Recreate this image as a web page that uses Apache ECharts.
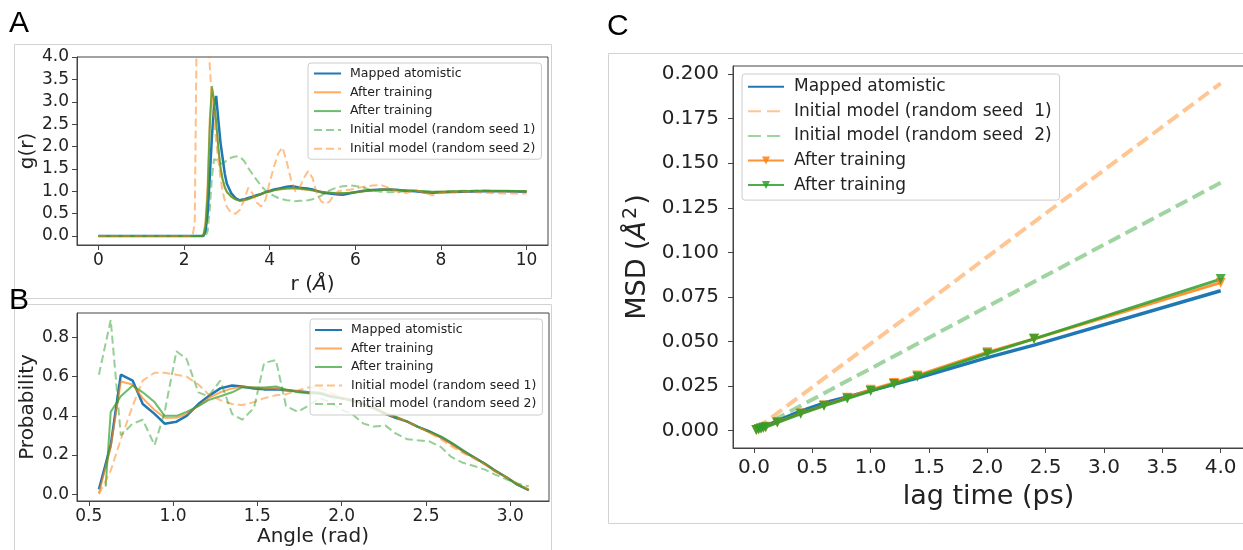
<!DOCTYPE html>
<html>
<head>
<meta charset="utf-8">
<script src="https://cdn.jsdelivr.net/npm/echarts@6/dist/echarts.min.js"></script>
<style>
  html, body { margin: 0; padding: 0; background: #fff; }
  #main { width: 1243px; height: 550px; }
</style>
</head>
<body>
<div id="main"></div>
<script>
// ---- panel A : g(r) ----
const rA = [0, 1, 2, 2.2, 2.25, 2.3, 2.35, 2.4, 2.45, 2.5, 2.55, 2.6, 2.65, 2.7, 2.75, 2.8, 2.85, 2.9, 2.95, 3.0,
  3.1, 3.2, 3.3, 3.4, 3.5, 3.6, 3.7, 3.8, 3.9, 4.0, 4.1, 4.2, 4.3, 4.4, 4.5, 4.6, 4.7, 4.8, 4.9, 5.0,
  5.1, 5.2, 5.3, 5.4, 5.5, 5.6, 5.7, 5.8, 5.9, 6.0, 6.2, 6.4, 6.6, 6.8, 7.0, 7.2, 7.4, 7.6, 7.8, 8.0,
  8.5, 9.0, 9.5, 10.0];
const gMapped = [0, 0, 0, 0, 0, 0, 0, 0, 0, 0.1, 0.5, 1.3, 2.2, 2.9, 3.13, 2.6, 2.1, 1.75, 1.4, 1.17,
  0.96, 0.85, 0.8, 0.82, 0.85, 0.88, 0.91, 0.94, 0.98, 1.01, 1.04, 1.06, 1.08, 1.1, 1.11, 1.1, 1.08, 1.07, 1.06, 1.04,
  1.01, 0.98, 0.96, 0.95, 0.94, 0.93, 0.92, 0.94, 0.96, 0.98, 1.01, 1.03, 1.04, 1.04, 1.03, 1.01, 1.0, 0.98, 0.97, 0.98,
  0.99, 1.0, 1.0, 0.99];
const gAfterOrange = [0, 0, 0, 0, 0, 0, 0, 0, 0.02, 0.3, 1.1, 2.6, 3.3, 3.0, 2.5, 1.95, 1.5, 1.25, 1.08, 0.98,
  0.88, 0.82, 0.79, 0.8, 0.83, 0.87, 0.9, 0.94, 0.98, 1.0, 1.02, 1.04, 1.05, 1.06, 1.07, 1.06, 1.05, 1.04, 1.03, 1.02,
  1.0, 0.99, 0.98, 0.97, 0.96, 0.95, 0.95, 0.96, 0.97, 0.98, 1.0, 1.02, 1.04, 1.04, 1.03, 1.02, 1.01, 0.99, 0.98, 0.99,
  1.0, 1.01, 1.0, 1.0];
const gAfterGreen = [0, 0, 0, 0, 0, 0, 0, 0, 0.01, 0.2, 0.9, 2.4, 3.35, 3.05, 2.55, 2.0, 1.55, 1.28, 1.1, 0.99,
  0.88, 0.82, 0.79, 0.8, 0.82, 0.86, 0.9, 0.93, 0.97, 0.99, 1.02, 1.04, 1.05, 1.06, 1.07, 1.07, 1.06, 1.05, 1.04, 1.02,
  1.0, 0.99, 0.98, 0.97, 0.96, 0.96, 0.96, 0.96, 0.97, 0.98, 1.0, 1.02, 1.03, 1.04, 1.03, 1.02, 1.01, 1.0, 0.99, 0.99,
  1.0, 1.01, 1.01, 1.0];
const gSeed1 = [0, 0, 0, 0, 0, 0, 0, 0, 0, 0, 0.1, 0.6, 1.3, 1.72, 1.7, 1.65, 1.62, 1.62, 1.65, 1.7,
  1.75, 1.78, 1.77, 1.68, 1.52, 1.38, 1.25, 1.12, 1.02, 0.95, 0.9, 0.85, 0.82, 0.8, 0.79, 0.78, 0.79, 0.79, 0.8, 0.82,
  0.86, 0.9, 0.96, 1.02, 1.06, 1.09, 1.11, 1.12, 1.13, 1.12, 1.08, 1.02, 0.99, 0.98, 0.99, 1.0, 1.01, 1.0, 0.99, 0.99,
  1.01, 1.02, 1.0, 1.0];
const gSeed2 = [0, 0, 0, 0, 0.3, 5, 9, 10, 9, 7, 5, 3.8, 3.1, 2.6, 2.1, 1.7, 1.3, 1.0, 0.8, 0.65,
  0.52, 0.5, 0.58, 0.8, 1.08, 0.95, 0.75, 0.66, 0.8, 1.2, 1.55, 1.85, 1.98, 1.65, 1.25, 1.0, 1.08, 1.3, 1.45, 1.3,
  0.95, 0.78, 0.72, 0.77, 0.92, 1.0, 1.02, 1.03, 1.04, 1.06, 1.1, 1.13, 1.14, 1.07, 0.98, 0.96, 1.03, 0.97, 0.91, 0.97,
  0.99, 0.97, 0.95, 0.95];
const ticksAx = [0, 2, 4, 6, 8, 10];
const ticksAy = [0, 0.5, 1, 1.5, 2, 2.5, 3, 3.5, 4];

// ---- panel B : angle distribution ----
const angles = [0.56, 0.63, 0.69, 0.76, 0.82, 0.89, 0.95, 1.02, 1.08, 1.15,
  1.21, 1.28, 1.35, 1.41, 1.48, 1.54, 1.61, 1.67, 1.74, 1.80,
  1.87, 1.93, 2.00, 2.06, 2.13, 2.19, 2.26, 2.32, 2.39, 2.45,
  2.52, 2.59, 2.65, 2.72, 2.78, 2.85, 2.91, 2.98, 3.04, 3.11];
const anglesGreen = [0.60, 0.63, 0.69, 0.76, 0.82, 0.89, 0.95, 1.02, 1.08, 1.15,
  1.21, 1.28, 1.35, 1.41, 1.48, 1.54, 1.61, 1.67, 1.74, 1.80,
  1.87, 1.93, 2.00, 2.06, 2.13, 2.19, 2.26, 2.32, 2.39, 2.45,
  2.52, 2.59, 2.65, 2.72, 2.78, 2.85, 2.91, 2.98, 3.04, 3.11];
const pMapped = [0.025, 0.25, 0.61, 0.58, 0.46, 0.41, 0.36, 0.37, 0.40, 0.46,
  0.50, 0.54, 0.555, 0.55, 0.54, 0.535, 0.535, 0.53, 0.525, 0.52,
  0.515, 0.50, 0.49, 0.48, 0.46, 0.44, 0.41, 0.39, 0.37, 0.345,
  0.32, 0.29, 0.26, 0.22, 0.19, 0.155, 0.12, 0.085, 0.05, 0.02];
const pAfterOrange = [0.005, 0.24, 0.575, 0.56, 0.49, 0.43, 0.39, 0.39, 0.41, 0.45,
  0.49, 0.52, 0.54, 0.55, 0.545, 0.54, 0.54, 0.53, 0.525, 0.52,
  0.52, 0.505, 0.49, 0.48, 0.46, 0.44, 0.415, 0.395, 0.37, 0.345,
  0.315, 0.29, 0.255, 0.22, 0.19, 0.155, 0.12, 0.085, 0.05, 0.02];
const pAfterGreen = [0.04, 0.42, 0.50, 0.555, 0.52, 0.47, 0.40, 0.40, 0.42, 0.45,
  0.48, 0.50, 0.52, 0.545, 0.545, 0.545, 0.55, 0.535, 0.52, 0.515,
  0.515, 0.50, 0.49, 0.475, 0.46, 0.44, 0.41, 0.395, 0.37, 0.345,
  0.32, 0.295, 0.265, 0.225, 0.19, 0.155, 0.12, 0.085, 0.05, 0.02];
const pSeed1 = [0.0, 0.12, 0.28, 0.45, 0.58, 0.62, 0.62, 0.61, 0.60, 0.56,
  0.51, 0.48, 0.46, 0.455, 0.47, 0.49, 0.505, 0.51, 0.53, 0.545,
  0.545, 0.52, 0.495, 0.475, 0.455, 0.435, 0.41, 0.39, 0.37, 0.345,
  0.315, 0.28, 0.245, 0.21, 0.185, 0.15, 0.115, 0.085, 0.055, 0.025];
const pSeed2 = [0.61, 0.89, 0.30, 0.36, 0.38, 0.25, 0.42, 0.73, 0.69, 0.52,
  0.50, 0.58, 0.41, 0.38, 0.44, 0.67, 0.685, 0.45, 0.42, 0.45,
  0.49, 0.47, 0.43, 0.41, 0.36, 0.345, 0.35, 0.31, 0.28, 0.275,
  0.27, 0.24, 0.19, 0.16, 0.145, 0.125, 0.10, 0.075, 0.055, 0.04];
const ticksBx = [0.5, 1.0, 1.5, 2.0, 2.5, 3.0];
const ticksBy = [0, 0.2, 0.4, 0.6, 0.8];

// ---- panel C : MSD ----
const lagTime = [0.02, 0.04, 0.06, 0.08, 0.1, 0.2, 0.4, 0.6, 0.8, 1.0, 1.2, 1.4, 2.0, 2.4, 4.0];
const msdMapped = [0.0005, 0.001, 0.0015, 0.002, 0.0026, 0.0055, 0.011, 0.0155, 0.019, 0.0225, 0.026, 0.0295, 0.041, 0.048, 0.0785];
const msdSeed1 = [0.001, 0.002, 0.003, 0.004, 0.005, 0.0098, 0.0196, 0.0293, 0.039, 0.0488, 0.0585, 0.068, 0.0975, 0.117, 0.1947];
const msdSeed2 = [0.0007, 0.0014, 0.0021, 0.0028, 0.0035, 0.007, 0.014, 0.021, 0.028, 0.0348, 0.0418, 0.0487, 0.0696, 0.0835, 0.139];
const msdAfterOrange = [0.0004, 0.0008, 0.0013, 0.0017, 0.0022, 0.0048, 0.0097, 0.0142, 0.0185, 0.023, 0.0268, 0.031, 0.044, 0.0515, 0.083];
const msdAfterGreen = [0.0004, 0.0008, 0.0012, 0.0016, 0.002, 0.0046, 0.0095, 0.014, 0.018, 0.0222, 0.0262, 0.0303, 0.0433, 0.0515, 0.085];
const ticksCx = [0, 0.5, 1, 1.5, 2, 2.5, 3, 3.5, 4];
const ticksCy = [0, 0.025, 0.05, 0.075, 0.1, 0.125, 0.15, 0.175, 0.2];

const FONT = 'DejaVu Sans';
const SPINE = '#444';
const BLUE = '#1f77b4', ORANGE = '#ff7f0e', GREEN = '#2ca02c';
const TRI_DOWN = 'path://M0,0L10,0L5,10Z';

const myChart = echarts.init(document.getElementById('main'));

function pairs(x, y) {
  return x.map((v, i) => [v, y[i]]);
}

function axis(o) {
  return {
    type: 'value', gridIndex: o.grid, min: o.min, max: o.max,
    axisLine: { show: true, onZero: false, lineStyle: { color: SPINE, width: 1 } },
    axisTick: { show: true, length: 5, customValues: o.ticks, lineStyle: { color: SPINE } },
    axisLabel: {
      customValues: o.ticks, formatter: o.fmt, fontFamily: FONT,
      fontSize: o.size, color: '#222', margin: o.margin
    },
    splitLine: { show: false },
    name: o.name, nameLocation: 'middle', nameGap: o.gap,
    nameTextStyle: {
      fontFamily: FONT, fontSize: o.nameSize, color: '#222',
      rich: {
        i: { fontFamily: FONT, fontSize: o.nameSize, fontStyle: 'italic', color: '#222' },
        s: { fontFamily: FONT, fontSize: Math.round(o.nameSize * 0.7), color: '#222', padding: [0, 2, 12, 2] }
      }
    }
  };
}

function line(name, x, y, idx, color, width, opacity, dash) {
  return {
    type: 'line', name: name, xAxisIndex: idx, yAxisIndex: idx,
    data: pairs(x, y), symbol: 'none', silent: true,
    lineStyle: { color: color, width: width, opacity: opacity, type: dash || 'solid' },
    itemStyle: { color: color, opacity: opacity }
  };
}

// legend entries: plain names hide the marker, {name, marker: true} keep it
function legend(names, o) {
  return {
    data: names.map(n => typeof n === 'string' ? { name: n, itemStyle: { opacity: 0 } } : { name: n.name }),
    orient: 'vertical', left: o.left, top: o.top, padding: o.padding,
    itemWidth: o.iw, itemHeight: 10, itemGap: o.gap, selectedMode: false,
    backgroundColor: 'rgba(255,255,255,0.8)', borderColor: '#cccccc', borderWidth: 1, borderRadius: 3,
    textStyle: { fontFamily: FONT, fontSize: o.size, color: '#222', lineHeight: o.lh, padding: [0, 0, 0, o.tp] },
    formatter: name => name.split('|')[0]
  };
}

const fmt1 = v => v.toFixed(1);
const frame = { fill: 'none', stroke: '#d2d2d2', lineWidth: 1 };
const letter = t => ({ text: t, font: '30px "Liberation Sans"', fill: '#000' });

const option = {
  animation: false,
  textStyle: { fontFamily: FONT },
  grid: [
    { left: 77, top: 57, width: 471, height: 188, show: true, borderColor: SPINE, borderWidth: 1, backgroundColor: 'transparent', containLabel: false, outerBoundsMode: 'none' },
    { left: 77, top: 313, width: 472, height: 188, show: true, borderColor: SPINE, borderWidth: 1, backgroundColor: 'transparent', containLabel: false, outerBoundsMode: 'none' },
    { left: 733, top: 66, width: 511, height: 382, show: true, borderColor: SPINE, borderWidth: 1, backgroundColor: 'transparent', containLabel: false, outerBoundsMode: 'none' }
  ],
  xAxis: [
    axis({ grid: 0, min: -0.5, max: 10.5, ticks: ticksAx, fmt: v => String(v), size: 17, margin: 7, name: 'r ({i|Å})', gap: 30, nameSize: 20 }),
    axis({ grid: 1, min: 0.43, max: 3.23, ticks: ticksBx, fmt: fmt1, size: 17, margin: 7, name: 'Angle (rad)', gap: 26, nameSize: 20 }),
    axis({ grid: 2, min: -0.18, max: 4.2, ticks: ticksCx, fmt: fmt1, size: 20, margin: 10, name: 'lag time (ps)', gap: 35, nameSize: 27 })
  ],
  yAxis: [
    axis({ grid: 0, min: -0.2, max: 4.0, ticks: ticksAy, fmt: fmt1, size: 17, margin: 8, name: 'g(r)', gap: 34, nameSize: 20 }),
    axis({ grid: 1, min: -0.035, max: 0.925, ticks: ticksBy, fmt: fmt1, size: 17, margin: 8, name: 'Probability', gap: 36, nameSize: 20 }),
    axis({ grid: 2, min: -0.0097, max: 0.2045, ticks: ticksCy, fmt: v => v.toFixed(3), size: 20, margin: 14, name: 'MSD ({i|Å}{s|2})', gap: 80, nameSize: 27 })
  ],
  legend: [
    legend(['Mapped atomistic|A', 'After training|A1', 'After training|A2', 'Initial model (random seed 1)|A', 'Initial model (random seed 2)|A'],
      { left: 308, top: 63, padding: [3.5, 6, 3.5, 5], iw: 27, gap: 4.8, size: 12.5, lh: 14, tp: 4 }),
    legend(['Mapped atomistic|B', 'After training|B1', 'After training|B2', 'Initial model (random seed 1)|B', 'Initial model (random seed 2)|B'],
      { left: 310, top: 319, padding: [4, 6, 4, 4], iw: 27, gap: 4.5, size: 12.5, lh: 14, tp: 4 }),
    legend(['Mapped atomistic|C', 'Initial model (random seed  1)|C', 'Initial model (random seed  2)|C', { name: 'After training|C1' }, { name: 'After training|C2' }],
      { left: 742, top: 74, padding: [2.7, 8, 5, 5], iw: 36, gap: 4.6, size: 17, lh: 20, tp: 5 })
  ],
  series: [
    line('Mapped atomistic|A', rA, gMapped, 0, BLUE, 2.5, 1),
    line('After training|A1', rA, gAfterOrange, 0, ORANGE, 2, 0.65),
    line('After training|A2', rA, gAfterGreen, 0, GREEN, 2, 0.7),
    line('Initial model (random seed 1)|A', rA, gSeed1, 0, GREEN, 2, 0.5, [8, 4]),
    line('Initial model (random seed 2)|A', rA, gSeed2, 0, ORANGE, 2, 0.5, [8, 4]),

    line('Mapped atomistic|B', angles, pMapped, 1, BLUE, 2.5, 1),
    line('After training|B1', angles, pAfterOrange, 1, ORANGE, 2, 0.65),
    line('After training|B2', anglesGreen, pAfterGreen, 1, GREEN, 2, 0.7),
    line('Initial model (random seed 1)|B', angles, pSeed1, 1, ORANGE, 2, 0.5, [8, 4]),
    line('Initial model (random seed 2)|B', angles, pSeed2, 1, GREEN, 2, 0.5, [8, 4]),

    line('Mapped atomistic|C', lagTime, msdMapped, 2, BLUE, 3.5, 1),
    line('Initial model (random seed  1)|C', lagTime, msdSeed1, 2, ORANGE, 4, 0.45, [13, 6]),
    line('Initial model (random seed  2)|C', lagTime, msdSeed2, 2, GREEN, 4, 0.45, [13, 6]),
    Object.assign(line('After training|C1', lagTime, msdAfterOrange, 2, ORANGE, 3, 0.85),
      { symbol: TRI_DOWN, symbolSize: 10, showSymbol: true }),
    Object.assign(line('After training|C2', lagTime, msdAfterGreen, 2, GREEN, 3, 0.85),
      { symbol: TRI_DOWN, symbolSize: 10, showSymbol: true })
  ],
  graphic: [
    { type: 'rect', silent: true, z: -10, shape: { x: 14.5, y: 44.5, width: 537, height: 254 }, style: frame },
    { type: 'rect', silent: true, z: -10, shape: { x: 14.5, y: 304.5, width: 537, height: 260 }, style: frame },
    { type: 'rect', silent: true, z: -10, shape: { x: 608.5, y: 53.5, width: 700, height: 470 }, style: frame },
    { type: 'text', silent: true, left: 9, top: 9, style: letter('A') },
    { type: 'text', silent: true, left: 9, top: 286, style: letter('B') },
    { type: 'text', silent: true, left: 607, top: 12, style: letter('C') }
  ]
};

option && myChart.setOption(option);
</script>
</body>
</html>
